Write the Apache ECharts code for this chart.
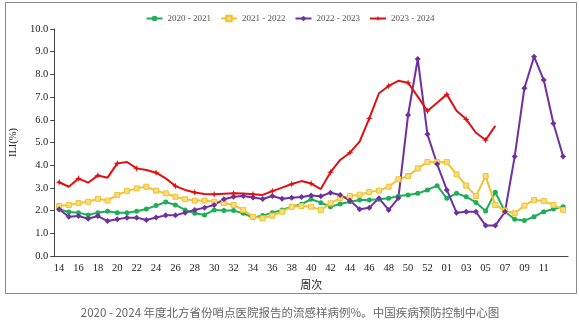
<!DOCTYPE html>
<html><head><meta charset="utf-8">
<script src="https://cdn.jsdelivr.net/npm/echarts@6/dist/echarts.min.js"></script>
<style>html,body{margin:0;padding:0;background:#fff}#c{width:580px;height:326px}</style>
</head><body><div id="c"></div>
<script>
const weeks = ['14','15','16','17','18','19','20','21','22','23','24','25','26','27','28','29','30','31','32','33','34','35','36','37','38','39','40','41','42','43','44','45','46','47','48','49','50','51','52','53','01','02','03','04','05','06','07','08','09','10','11','12','13'];
const yTicks = ['0.0','1.0','2.0','3.0','4.0','5.0','6.0','7.0','8.0','9.0','10.0'];
const s2020 = [2.06,1.94,1.91,1.81,1.91,1.97,1.91,1.91,1.97,2.07,2.22,2.38,2.25,2.03,1.88,1.81,2.03,2.0,2.0,1.88,1.69,1.78,1.91,2.03,2.17,2.28,2.50,2.35,2.17,2.29,2.39,2.47,2.47,2.50,2.54,2.64,2.69,2.76,2.91,3.10,2.54,2.76,2.61,2.36,1.98,2.81,1.95,1.62,1.56,1.73,1.95,2.07,2.17];
const s2021 = [2.20,2.25,2.33,2.39,2.52,2.44,2.69,2.86,2.98,3.05,2.88,2.76,2.61,2.50,2.44,2.44,2.39,2.33,2.25,2.03,1.73,1.66,1.78,1.95,2.17,2.20,2.17,2.03,2.32,2.56,2.64,2.70,2.82,2.88,3.05,3.38,3.52,3.86,4.14,4.13,4.14,3.60,3.10,2.64,3.52,2.25,2.00,1.88,2.22,2.47,2.42,2.25,2.03];
const s2022 = [2.06,1.73,1.76,1.64,1.76,1.54,1.62,1.69,1.69,1.59,1.70,1.79,1.79,1.91,2.03,2.13,2.25,2.50,2.61,2.64,2.58,2.51,2.64,2.52,2.57,2.60,2.67,2.63,2.79,2.69,2.44,2.06,2.13,2.54,2.03,2.55,6.21,8.68,5.36,4.05,2.91,1.91,1.95,1.95,1.34,1.34,1.95,4.38,7.39,8.78,7.75,5.84,4.38];
const s2023 = [3.25,3.05,3.41,3.23,3.55,3.45,4.08,4.14,3.86,3.79,3.67,3.42,3.08,2.91,2.80,2.73,2.72,2.74,2.76,2.75,2.72,2.69,2.86,3.01,3.17,3.30,3.19,2.95,3.69,4.23,4.55,5.04,6.06,7.17,7.49,7.72,7.63,7.02,6.39,6.75,7.12,6.40,6.02,5.43,5.11,5.73];
const names = ['2020 - 2021','2021 - 2022','2022 - 2023','2023 - 2024'];

const chart = echarts.init(document.getElementById('c'), null, {renderer:'canvas'});
const serif = 'Liberation Serif';
function mk(name, data, color, symbol, size, fill) {
  return {
    name, type:'line', data, symbol, symbolSize:size, showSymbol:true,
    lineStyle:{color, width:2},
    itemStyle:{color: fill || color, borderColor: color, borderWidth: fill ? 1 : 0},
    emphasis:{disabled:true}, animation:false, z: 2
  };
}
chart.setOption({
  animation:false,
  graphic:[
    {type:'rect', shape:{x:5.5,y:2.5,width:571,height:291}, style:{fill:'none', stroke:'#8a8a8a', lineWidth:1}, silent:true},
    {type:'text', left:'center', top:307, style:{text:'2020 - 2024 年度北方省份哨点医院报告的流感样病例%。中国疾病预防控制中心图', fill:'#666', font:'11.5px "Noto Sans CJK SC"'}}
  ],
  legend:{
    top:9, left:'center', itemWidth:16, itemHeight:7, itemGap:9,
    textStyle:{color:'#555', fontSize:9, fontFamily:'Liberation Serif'},
    data:names
  },
  grid:{left:48, right:12, top:29, bottom:70, containLabel:false},
  xAxis:{
    type:'category', data:weeks, boundaryGap:true,
    name:'周次', nameLocation:'middle', nameGap:22,
    nameTextStyle:{color:'#222', fontSize:11, fontFamily:'Noto Sans CJK SC'},
    axisLine:{lineStyle:{color:'#444'}},
    axisTick:{interval:0, length:3, lineStyle:{color:'#444'}},
    axisLabel:{interval:(i)=> i % 2 === 0 && i < 52, color:'#222', fontSize:10.5, fontFamily:serif, margin:7},
    splitLine:{show:false}
  },
  yAxis:{
    type:'value', min:0, max:10, interval:1,
    name:'ILI(%)', nameLocation:'middle', nameGap:32, nameRotate:90,
    nameTextStyle:{color:'#222', fontSize:10.5, fontFamily:serif},
    axisLine:{show:true, lineStyle:{color:'#444'}},
    axisTick:{show:true, length:4, lineStyle:{color:'#444'}},
    axisLabel:{color:'#222', fontSize:10.5, fontFamily:serif, margin:6, formatter:(v)=>yTicks[Math.round(v)]},
    splitLine:{show:false}
  },
  series:[
    mk(names[0], s2020, '#1fae55', 'circle', 5),
    mk(names[1], s2021, '#f2c230', 'rect', 5, '#f7dc80'),
    mk(names[2], s2022, '#7030a0', 'diamond', 6),
    mk(names[3], s2023, '#e01010', 'path://M0,-10 L2.5,-2.5 L10,0 L2.5,2.5 L0,10 L-2.5,2.5 L-10,0 L-2.5,-2.5 Z', 7)
  ]
});
</script></body></html>
